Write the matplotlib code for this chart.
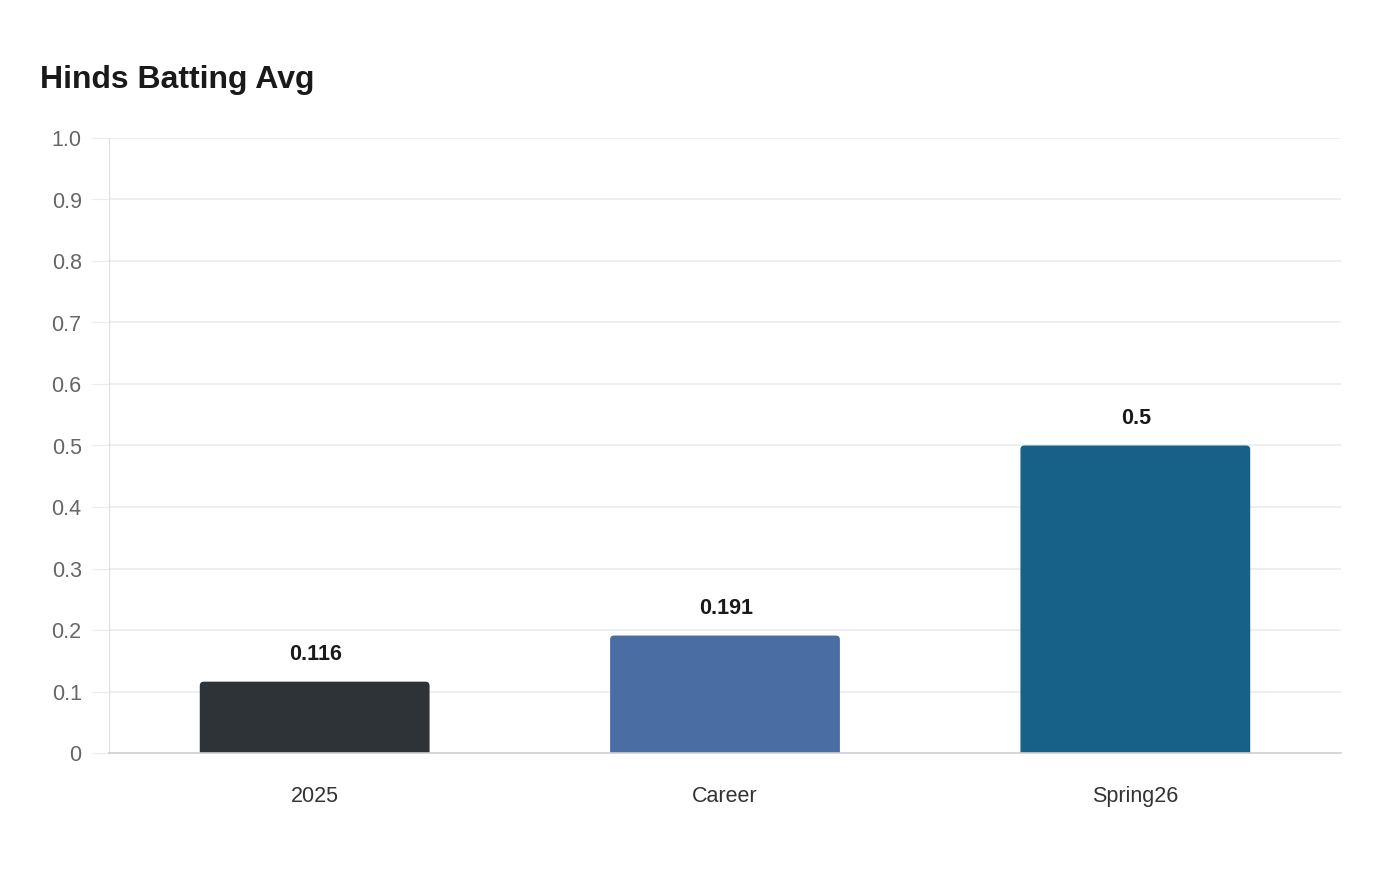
import matplotlib
matplotlib.use('Agg')
import matplotlib.pyplot as plt
from matplotlib.patches import FancyBboxPatch

# Data
categories = ['2025', 'Career', 'Spring26']
values = [0.116, 0.191, 0.5]
bar_colors = ['#2e3337', '#4a6ea3', '#176187']
y_ticks = [0, 0.1, 0.2, 0.3, 0.4, 0.5, 0.6, 0.7, 0.8, 0.9, 1.0]
y_tick_labels = ['0', '0.1', '0.2', '0.3', '0.4', '0.5', '0.6', '0.7', '0.8', '0.9', '1.0']

plt.rcParams['font.family'] = ['Liberation Sans', 'DejaVu Sans']

fig = plt.figure(figsize=(14, 8.8), dpi=100)
ax = fig.add_axes([109.5 / 1400, 1 - 753 / 880, (1340.5 - 109.5) / 1400, (753 - 138) / 880])

ax.set_xlim(-0.5, 2.5)
ax.set_ylim(0, 1.0)

# Bars with slightly rounded tops (bottom corners hidden below the axis)
x = list(range(len(categories)))
bars = ax.bar(x, values, width=0.56, color=bar_colors, zorder=3)
px_x = 1231 / 3.0   # pixels per x unit
px_y = 615 / 1.0    # pixels per y unit
radius = 4.0 / px_x
for b, c in zip(bars, bar_colors):
    b.set_visible(False)
    rb = FancyBboxPatch((b.get_x(), -0.02), b.get_width(), b.get_height() + 0.02,
                        boxstyle='round,pad=0,rounding_size={}'.format(radius),
                        mutation_aspect=px_x / px_y, facecolor=c, edgecolor='none',
                        zorder=3, clip_on=True)
    ax.add_patch(rb)

# Value labels above the bars
for xi, v in zip(x, values):
    ax.annotate('{:g}'.format(v), (xi, v), xytext=(0.5, 19.5), textcoords='offset points',
                ha='center', va='center', fontsize=15.5, fontweight='bold', color='#1a1a1a')

ax.set_xticks(x)
ax.set_xticklabels(categories)
ax.set_yticks(y_ticks)
ax.set_yticklabels(y_tick_labels)

ax.grid(axis='y', color='#ebebeb', linewidth=1.2, zorder=0)
for s in ['top', 'right']:
    ax.spines[s].set_visible(False)
ax.spines['left'].set_color('#e0e0e0')
ax.spines['bottom'].set_color('#d0d0d0')
ax.spines['bottom'].set_linewidth(1.2)
ax.spines['bottom'].set_zorder(4)

ax.tick_params(axis='y', length=12, color='#ebebeb', pad=8, labelsize=15.5, labelcolor='#666666')
ax.tick_params(axis='x', length=0, pad=23.5, labelsize=15.5, labelcolor='#333333')

fig.text(40 / 1400, 1 - 80 / 880, 'Hinds Batting Avg', fontsize=23, fontweight='bold',
         color='#1a1a1a', ha='left', va='center')

fig.savefig('out.png', dpi=100)
plt.close(fig)
